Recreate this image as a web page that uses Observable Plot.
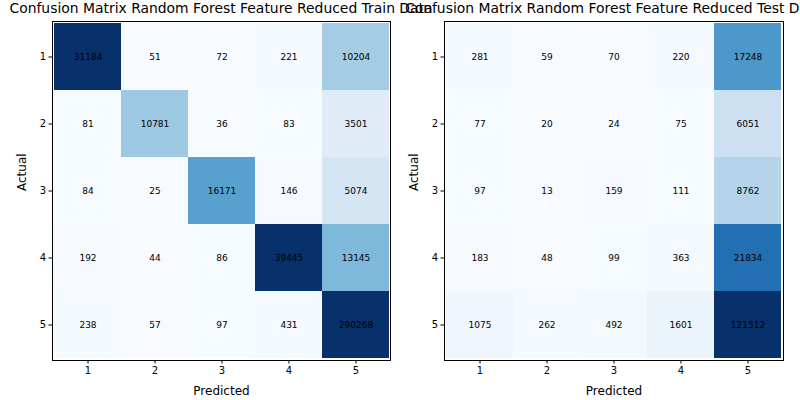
<!DOCTYPE html>
<html>
<head>
<meta charset="utf-8">
<script src="https://cdn.jsdelivr.net/npm/d3@7"></script>
<script src="https://cdn.jsdelivr.net/npm/@observablehq/plot@0.6"></script>
<style>
  html, body { margin: 0; padding: 0; background: #fff; overflow: hidden; }
  #wrap { position: relative; width: 800px; height: 400px; overflow: hidden; font-family: "DejaVu Sans", sans-serif; }
  .panel { position: absolute; top: 0; }
  .panel svg { overflow: visible; }
  .title { position: absolute; top: 0px; font-size: 13.9px; white-space: nowrap; transform: translateX(-50%); color: #000; line-height: 16px; }
</style>
</head>
<body>
<div id="wrap"></div>
<script>
const classLabels = ["1", "2", "3", "4", "5"];
const trainTitle = "Confusion Matrix Random Forest Feature Reduced Train Data";
const testTitle = "Confusion Matrix Random Forest Feature Reduced Test Data";
const xLabel = "Predicted";
const yLabel = "Actual";
// rows = actual, columns = predicted
const trainMatrix = [
  [31184, 51, 72, 221, 10204],
  [81, 10781, 36, 83, 3501],
  [84, 25, 16171, 146, 5074],
  [192, 44, 86, 39445, 13145],
  [238, 57, 97, 431, 290268]
];
const testMatrix = [
  [281, 59, 70, 220, 17248],
  [77, 20, 24, 75, 6051],
  [97, 13, 159, 111, 8762],
  [183, 48, 99, 363, 21834],
  [1075, 262, 492, 1601, 121512]
];
const colorMax = 29000;

function toTable(m) {
  const rows = [];
  m.forEach((row, i) => row.forEach((v, j) => rows.push({actual: classLabels[i], predicted: classLabels[j], value: v})));
  return rows;
}

function panel(matrix, marginRight) {
  const data = toTable(matrix);
  return Plot.plot({
    width: 400,
    height: 400,
    marginLeft: 52,
    marginRight: marginRight,
    marginTop: 21,
    marginBottom: 40,
    style: {fontFamily: "DejaVu Sans", fontSize: "10px", color: "#000", background: "transparent"},
    x: {type: "band", domain: classLabels, padding: 0, label: null, tickSize: 3.5, tickPadding: 3},
    y: {type: "band", domain: classLabels, padding: 0, label: null, tickSize: 3.5, tickPadding: 3},
    color: {type: "linear", scheme: "blues", domain: [0, colorMax], clamp: true},
    marks: [
      Plot.cell(data, {x: "predicted", y: "actual", fill: "value", inset: 0}),
      Plot.text(data, {x: "predicted", y: "actual", text: d => String(d.value), fill: "#000", fontSize: 9}),
      Plot.frame({stroke: "#000", strokeWidth: 1}),
      Plot.text([xLabel], {frameAnchor: "bottom", dy: 34, text: d => d, fontSize: 12, fill: "#000"}),
      Plot.text([yLabel], {frameAnchor: "left", dx: -30, text: d => d, fontSize: 12, rotate: -90, fill: "#000"})
    ]
  });
}

const wrap = document.getElementById("wrap");
const p1 = panel(trainMatrix, 10);
p1.classList.add("panel");
p1.style.left = "0px";
wrap.appendChild(p1);
const p2 = panel(testMatrix, 9);
p2.classList.add("panel");
p2.style.left = "392px";
wrap.appendChild(p2);

const t1 = document.createElement("div");
t1.className = "title";
t1.textContent = trainTitle;
t1.style.left = "221px";
wrap.appendChild(t1);
const t2 = document.createElement("div");
t2.className = "title";
t2.textContent = testTitle;
t2.style.left = "613.5px";
wrap.appendChild(t2);
</script>
</body>
</html>
